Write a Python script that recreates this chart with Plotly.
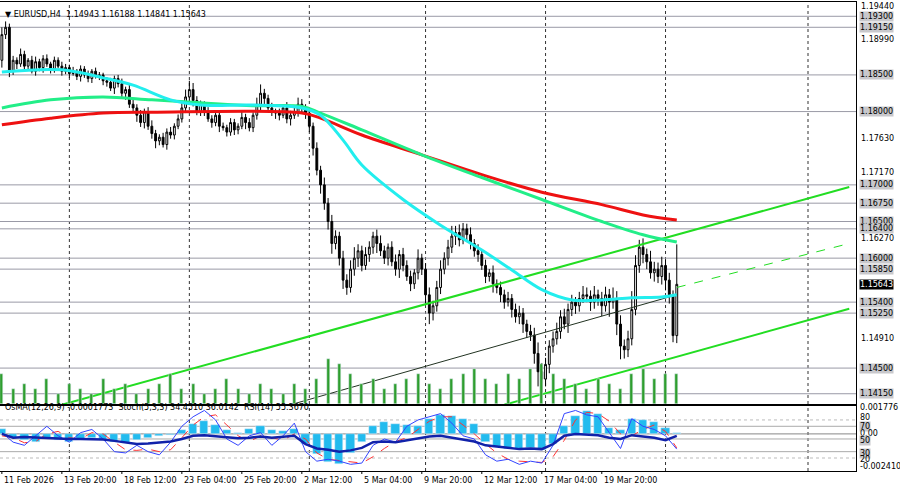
import plotly.graph_objects as go

# closes in pips above 1.14000
closes = [505,515,455, 470,465,478,462,470,455,468,460,472,465,458,470,462,455,
 460,452,455,448,458,450,445,455,448,450,442,
 440,432,445,438,425,430,410,405,
 395,385,400,380,370,360,365,355,372,368,380,390,
 405,420,430,415,400,410,
 400,390,385,395,380,378,372,385,375,380,392,385,378,395,
 410,425,418,405,400,398,395,405,390,395,400,410,405,398,
 380,350,320,300,275,250,220,230,200,170,
 160,185,200,210,190,205,215,230,220,210,200,215,195,185,205,190,175,165,180,200,185,
 150,125,135,160,
 185,200,215,230,235,225,240,232,220,
 210,205,190,175,180,165,160,150,140,145,130,120,125,110,100,95,
 70,45,35,55,
 80,90,100,120,110,130,140,135,145,150,
 148,140,150,145,135,150,140,145,
 110,80,75,90,
 130,190,215,205,
 195,180,185,175,190,170,
 150,94.3,
 164.3]
ups = [10,8,5,6,4,8,5,3,6,7,4,5,6,3,5,4,6,
 5,4,6,3,5,4,6,3,5,4,3,
 5,6,4,5,7,4,8,6,
 5,7,4,6,8,5,4,6,5,7,4,6,
 8,10,12,9,6,5,
 4,6,5,3,7,5,4,6,5,4,8,5,6,4,
 9,12,6,5,7,4,6,5,8,6,5,9,7,5,
 6,5,8,6,10,7,9,8,6,10,
 8,12,15,9,7,10,8,6,9,11,7,5,8,10,6,9,7,8,5,12,6,
 8,10,7,9,
 12,8,10,14,9,11,8,7,10,
 6,9,7,8,5,10,6,8,7,9,6,8,10,7,6,9,
 10,15,12,9,
 8,10,12,9,11,8,10,7,9,12,
 10,8,12,7,9,11,8,15,
 10,12,9,11,
 25,14,10,12,
 8,15,10,9,12,8,
 10,6,
 54.5]
dns = [10,6,8,5,7,4,6,5,3,6,5,7,4,6,5,3,6,
 4,6,3,5,7,4,5,6,3,5,6,
 6,4,8,5,6,9,5,7,
 9,6,8,5,7,10,6,4,7,5,6,4,
 5,7,6,8,5,6,
 6,4,7,5,8,4,6,5,7,6,4,9,5,6,
 6,8,10,5,6,8,7,4,6,9,5,7,6,8,
 8,10,7,12,9,11,14,8,10,12,
 10,7,9,12,8,6,10,9,13,7,8,10,6,9,12,8,6,10,7,9,8,
 12,15,10,8,
 9,7,10,8,12,9,6,10,8,
 8,10,6,9,7,12,8,10,9,6,11,8,10,12,9,8,
 14,20,18,10,
 12,9,8,10,7,12,9,11,8,6,
 8,12,9,10,14,8,20,9,
 15,18,12,10,
 9,8,10,12,
 10,8,12,9,11,14,
 12,9,
 10.2]
assert len(closes) == len(ups) == len(dns) == 181

# moving averages (bar, pips)
ma_fast_x = [0,16,27,35,45,53,67,80,85,91,96,107,117,128,136,144,152,160,168,176,180]
ma_fast_y = [454,457,446,436,416,409,409,405,395,361,327,280,245,211,184,157,143,143,146,147,150]
ma_mid_x = [0,13,27,40,53,67,80,85,96,112,128,144,160,171,180]
ma_mid_y = [405,416,420,416,412,408,407,398,375,341,310,280,250,232,222]
ma_slow_x = [0,13,27,40,80,85,96,112,128,144,160,171,180]
ma_slow_y = [382,391,398,399,398,391,368,341,314,290,273,259,252]

# trend lines (bar, pips)
ch_up = ([16, 226], [0, 297])
ch_lo = ([134, 226], [0, 131])
ch_mid = ([180, 226], [160, 220])
tl_dark = ([77, 180], [0, 150])

# indicator panel, sampled every 3 bars
osma = [0.4,-0.3,-0.5,-0.6,-0.4,-0.5,-0.6,-0.4,-0.3,-0.5,-0.6,-0.7,-0.5,-0.3,-0.2,-0.1,0.3,0.8,1.0,0.7,
 0.3,0.1,0.4,0.6,0.3,0.2,0.4,-0.8,-1.6,-2.2,-2.4,-1.5,-0.6,0.6,0.9,0.8,0.7,0.6,1.2,1.5,
 1.4,1.2,0.8,-0.6,-1.0,-1.2,-1.2,-1.1,-1.3,-0.8,0.6,1.4,1.8,1.6,0.5,0.3,1.2,1.1,0.9,0.5,0.1]
stoch = [60,45,40,55,70,55,45,60,65,50,30,28,40,30,25,45,70,85,95,80,50,40,55,60,40,55,75,30,15,18,
 15,10,12,40,50,45,70,80,85,90,75,55,50,25,15,18,10,15,12,40,90,95,88,85,60,35,82,70,65,55,34]
stoch_sig = [55,52,44,46,58,62,52,50,60,58,45,33,32,34,30,33,52,72,85,88,72,55,46,55,52,48,58,50,28,18,
 16,14,12,22,35,46,52,65,78,85,85,72,58,42,28,18,15,14,13,22,48,80,92,90,78,58,55,65,72,62,36]
rsi = [58,52,53,52,52,51,50,50,50,49,47,44,42,43,45,46,50,55,56,54,52,51,52,54,52,53,55,42,35,33,
 30,32,36,45,46,45,48,52,54,55,52,48,46,40,38,36,34,35,34,42,55,58,57,56,52,50,56,54,52,48,55]
volume = [6,3,4,3,5,2,4,3,2,5,3,4,2,3,4,6,3,4,2,3,5,3,2,4,3,2,4,3,5,9,8,6,4,5,3,4,5,6,4,3,5,6,7,5,4,
 6,5,7,8,6,5,4,3,5,4,3,6,7,5,6,6]

tick_bars = [0,16,32,48,64,80,96,112,128,144,160]
tick_labels = ["11 Feb 2026","13 Feb 20:00","18 Feb 12:00","23 Feb 04:00","25 Feb 20:00","2 Mar 12:00",
               "5 Mar 04:00","9 Mar 20:00","12 Mar 12:00","17 Mar 04:00","19 Mar 20:00"]
vlines = [18,50,82,113,145,177,215]
level_prices = [1.1930,1.1915,1.1850,1.1800,1.1700,1.1675,1.1650,1.1640,1.1600,1.1585,1.1540,1.1525,1.1450,1.1415]
plain_prices = [1.19440,1.18990,1.17630,1.17170,1.16270,1.14910,1.14000]
last_price = 1.15643

P = lambda v: 1.14 + v / 10000.0
n = len(closes)
xb = list(range(n))
C = [P(v) for v in closes]
O = [P(470)] + C[:-1]
O[-1] = 1.14943
H = [max(o, c) + u / 10000.0 for o, c, u in zip(O, C, ups)]
L = [min(o, c) - d / 10000.0 for o, c, d in zip(O, C, dns)]

W, Hh = 900, 489
XD = 856 / W
def py(pix):
    return (Hh - pix) / Hh

OS_BASE = 58
fig = go.Figure()
xs3 = [3 * i for i in range(len(osma))]
fig.add_trace(go.Bar(x=xs3, y=volume, marker_color="#2e9e2e", width=0.8, yaxis="y3", xaxis="x", showlegend=False))
for (bx, by) in [ch_up, ch_lo]:
    fig.add_trace(go.Scatter(x=bx, y=[P(v) for v in by], mode="lines", line=dict(color="#22dd22", width=2), showlegend=False))
fig.add_trace(go.Scatter(x=ch_mid[0], y=[P(v) for v in ch_mid[1]], mode="lines", line=dict(color="#22dd22", width=1, dash="dash"), showlegend=False))
fig.add_trace(go.Scatter(x=tl_dark[0], y=[P(v) for v in tl_dark[1]], mode="lines", line=dict(color="#223322", width=1), showlegend=False))
fig.add_trace(go.Candlestick(x=xb, open=O, high=H, low=L, close=C, whiskerwidth=0,
    increasing=dict(line=dict(color="#000000", width=1), fillcolor="#ffffff"),
    decreasing=dict(line=dict(color="#000000", width=1), fillcolor="#000000"), showlegend=False))
fig.add_trace(go.Scatter(x=ma_slow_x, y=[P(v) for v in ma_slow_y], mode="lines", line=dict(color="#ee1111", width=3, shape="spline"), showlegend=False))
fig.add_trace(go.Scatter(x=ma_mid_x, y=[P(v) for v in ma_mid_y], mode="lines", line=dict(color="#22ee88", width=3, shape="spline"), showlegend=False))
fig.add_trace(go.Scatter(x=ma_fast_x, y=[P(v) for v in ma_fast_y], mode="lines", line=dict(color="#22eeee", width=3, shape="spline"), showlegend=False))

# indicator panel
fig.add_trace(go.Bar(x=xs3, y=[o * 20 for o in osma], base=OS_BASE, marker_color="#22bbee", width=2.2, xaxis="x2", yaxis="y2", showlegend=False))
fig.add_trace(go.Scatter(x=xs3, y=stoch_sig, mode="lines", line=dict(color="#ff3333", width=1, dash="dash"), xaxis="x2", yaxis="y2", showlegend=False))
fig.add_trace(go.Scatter(x=xs3, y=stoch, mode="lines", line=dict(color="#3344ff", width=1), xaxis="x2", yaxis="y2", showlegend=False))
fig.add_trace(go.Scatter(x=xs3, y=rsi, mode="lines", line=dict(color="#1122aa", width=2.5), xaxis="x2", yaxis="y2", showlegend=False))

xr = [-0.5, 227.8]
shapes = []
for p in level_prices:
    shapes.append(dict(type="line", xref="x", yref="y", x0=xr[0], x1=xr[1], y0=p, y1=p, line=dict(color="#9a9aa6", width=1), layer="below"))
for b in vlines:
    for ax in [("x", "y"), ("x2", "y2")]:
        shapes.append(dict(type="line", xref=ax[0], yref=ax[1] + " domain", x0=b, x1=b, y0=0, y1=1, line=dict(color="#333333", width=1, dash="dot"), layer="below"))
for lv, d, c in [(80, "dot", "#bbbbbb"), (70, "solid", "#aaaaaa"), (OS_BASE, "solid", "#888888"), (50, "solid", "#aaaaaa"), (30, "solid", "#aaaaaa"), (20, "dot", "#bbbbbb")]:
    shapes.append(dict(type="line", xref="x2", yref="y2", x0=xr[0], x1=xr[1], y0=lv, y1=lv, line=dict(color=c, width=1, dash=d), layer="below"))
for b in tick_bars:
    shapes.append(dict(type="line", xref="x2", yref="paper", x0=b, x1=b, y0=py(471), y1=py(474), line=dict(color="#000", width=1)))

ann = []
F = "DejaVu Sans"
FS = 8
XL = 859 / W
for p in plain_prices:
    ann.append(dict(x=XL, y=p, xref="paper", yref="y", text="%.5f" % p, showarrow=False, xanchor="left", font=dict(size=FS, color="#000", family=F)))
for p in level_prices:
    ann.append(dict(x=XL, y=p, xref="paper", yref="y", text="%.5f" % p, showarrow=False, xanchor="left", bgcolor="#c8c8cc", borderpad=0, font=dict(size=FS, color="#000", family=F)))
ann.append(dict(x=XL, y=last_price, xref="paper", yref="y", text="%.5f" % last_price, showarrow=False, xanchor="left", bgcolor="#000000", borderpad=0, font=dict(size=FS, color="#fff", family=F)))
for t, v, bg in [("0.001776", 100, None), ("80", 84, None), ("70", 70, "#c8c8cc"), ("0.00", 58, None), ("50", 47, "#c8c8cc"), ("30", 27, "#c8c8cc"), ("20", 17, None), ("-0.002410", 7, None)]:
    a = dict(x=XL, y=v, xref="paper", yref="y2", text=t, showarrow=False, xanchor="left", borderpad=0, font=dict(size=FS, color="#000", family=F))
    if bg:
        a["bgcolor"] = bg
    ann.append(a)
for b, t in zip(tick_bars, tick_labels):
    ann.append(dict(x=b, y=py(480), xref="x2", yref="paper", text=t, showarrow=False, xanchor="left", yanchor="middle", font=dict(size=FS, color="#000", family=F)))
ann.append(dict(x=3 / W, y=py(8), xref="paper", yref="paper", text="▼ EURUSD,H4  1.14943 1.16188 1.14841 1.15643", showarrow=False, xanchor="left", font=dict(size=FS, color="#000", family=F)))
ann.append(dict(x=3 / W, y=py(414), xref="paper", yref="paper", text="OsMA(12,26,9) -0.0001773  Stoch(5,3,3) 34.4510 36.0142  RSI(14) 55.3670", showarrow=False, xanchor="left", font=dict(size=FS, color="#000", family=F)))

axcommon = dict(showgrid=False, zeroline=False, showline=True, linecolor="#000", mirror=True, ticks="", showticklabels=False)
fig.update_layout(
    width=W, height=Hh, margin=dict(l=0, r=0, t=0, b=0),
    paper_bgcolor="#fff", plot_bgcolor="#fff", bargap=0, hovermode=False,
    xaxis=dict(domain=[0, XD], range=xr, anchor="y", rangeslider=dict(visible=False), **axcommon),
    yaxis=dict(domain=[py(404), py(2)], range=[1.14010, 1.19495], **axcommon),
    yaxis3=dict(domain=[py(404), py(2)], range=[0, 80], overlaying="y", visible=False),
    xaxis2=dict(domain=[0, XD], range=xr, anchor="y2", **axcommon),
    yaxis2=dict(domain=[py(471), py(406)], range=[-0.5, 102], **axcommon),
    shapes=shapes, annotations=ann,
)
fig.write_html("out.html", config={"displayModeBar": False},
               post_script="document.body.style.margin='0';document.body.style.overflow='hidden';")
